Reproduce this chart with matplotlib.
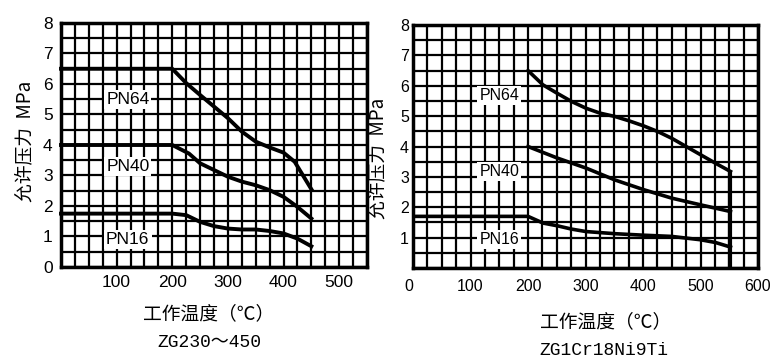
# Allowable pressure vs working temperature, two steel grades
import numpy as np
import matplotlib
matplotlib.use('Agg')
import matplotlib.pyplot as plt
from matplotlib.ticker import MultipleLocator

plt.rcParams['font.family'] = ['Liberation Sans', 'Noto Sans CJK SC', 'DejaVu Sans']

# ---- data ----
# left chart: ZG230~450
leftX64 = [0, 200, 225, 250, 275, 300, 325, 350, 375, 400, 420, 435, 450]
leftY64 = [6.5, 6.5, 6.03, 5.64, 5.26, 4.88, 4.44, 4.11, 3.92, 3.75, 3.45, 3.0, 2.55]
leftX40 = [0, 200, 230, 250, 275, 300, 325, 350, 375, 400, 425, 450]
leftY40 = [4.0, 4.0, 3.72, 3.4, 3.18, 2.96, 2.8, 2.68, 2.52, 2.3, 1.97, 1.59]
leftX16 = [0, 200, 225, 250, 275, 300, 325, 350, 375, 400, 425, 450]
leftY16 = [1.75, 1.75, 1.7, 1.48, 1.34, 1.26, 1.23, 1.23, 1.18, 1.1, 0.93, 0.68]

# right chart: ZG1Cr18Ni9Ti
rightX64 = [200, 226, 251, 276, 301, 325, 351, 375, 401, 426, 450, 475, 500, 526, 552]
rightY64 = [6.5, 6.03, 5.75, 5.48, 5.26, 5.1, 4.99, 4.85, 4.68, 4.49, 4.27, 4.0, 3.73, 3.45, 3.18]
rightX40 = [200, 251, 301, 351, 401, 450, 500, 552]
rightY40 = [4.0, 3.62, 3.29, 2.9, 2.58, 2.3, 2.08, 1.86]
rightX16 = [0, 200, 226, 251, 276, 301, 351, 401, 450, 500, 526, 552]
rightY16 = [1.7, 1.7, 1.48, 1.39, 1.28, 1.2, 1.13, 1.08, 1.04, 0.93, 0.84, 0.69]
rightCutX = 552

leftXTicks = [100, 200, 300, 400, 500]
rightXTicks = [0, 100, 200, 300, 400, 500, 600]
yTicks = [0, 1, 2, 3, 4, 5, 6, 7, 8]
rightYTicks = [1, 2, 3, 4, 5, 6, 7, 8]

labels = ['PN64', 'PN40', 'PN16']
leftLabelPos = [(120, 5.5), (120, 3.3), (120, 0.9)]
rightLabelPos = [(150, 5.67), (150, 3.18), (150, 0.95)]

xLabel = '工作温度（℃）'
yLabel = '允许压力  MPa'
leftCaption = 'ZG230～450'
rightCaption = 'ZG1Cr18Ni9Ti'

cjk = ['Noto Sans CJK SC', 'DejaVu Sans']
mono = ['Liberation Mono', 'Noto Sans CJK SC']

# ------------------------------------------------------------------------------
def styleGrid(ax, xmax, tickSize):
    ax.set_xlim(0, xmax)
    ax.set_ylim(0, 8)
    ax.xaxis.set_minor_locator(MultipleLocator(25))
    ax.yaxis.set_minor_locator(MultipleLocator(0.5))
    ax.grid(which='both', color='black', linewidth=1.6)
    ax.set_axisbelow(True)
    ax.tick_params(which='both', length=0, labelsize=tickSize)
    for s in ax.spines.values():
        s.set_linewidth(2.5)

def putLabels(ax, positions, size):
    for lab, (x, y) in zip(labels, positions):
        ax.text(x, y, lab, ha='center', va='center', fontsize=size, zorder=5,
                bbox=dict(facecolor='white', edgecolor='none', pad=1.5))

fig = plt.figure(figsize=(7.71, 3.61), dpi=100)

# --- left chart
axL = fig.add_axes([0.0791, 0.2604, 0.3969, 0.6759])
styleGrid(axL, 550, 12.5)
axL.set_xticks(leftXTicks)
axL.set_yticks(yTicks)
axL.tick_params(axis='x', pad=6)
axL.tick_params(axis='y', pad=6)
for xs, ys in [(leftX64, leftY64), (leftX40, leftY40), (leftX16, leftY16)]:
    axL.plot(xs, ys, color='black', linewidth=2.8, zorder=3, clip_on=False,
             solid_joinstyle='round')
putLabels(axL, leftLabelPos, 12.5)

# --- right chart
axR = fig.add_axes([0.5357, 0.2576, 0.4475, 0.673])
styleGrid(axR, 600, 11.5)
axR.set_xticks(rightXTicks)
axR.set_yticks(rightYTicks)
axR.tick_params(axis='x', pad=8)
axR.tick_params(axis='y', pad=3)
axR.get_xticklabels()[0].set_horizontalalignment('right')
for xs, ys in [(rightX64, rightY64), (rightX40, rightY40), (rightX16, rightY16)]:
    axR.plot(xs, ys, color='black', linewidth=2.6, zorder=3, solid_joinstyle='round')
axR.vlines(rightCutX, 0, rightY64[-1], color='black', linewidth=3, zorder=3)
putLabels(axR, rightLabelPos, 11.5)

# --- axis titles and captions
fig.text(0.271, 0.13, xLabel, ha='center', va='center', fontsize=13.5, family=cjk)
fig.text(0.271, 0.05, leftCaption, ha='center', va='center', fontsize=13, family=mono)
fig.text(0.785, 0.108, xLabel, ha='center', va='center', fontsize=13.5, family=cjk)
fig.text(0.783, 0.03, rightCaption, ha='center', va='center', fontsize=13, family=mono)
fig.text(0.032, 0.607, yLabel, ha='center', va='center', rotation=90, fontsize=13.5, family=cjk)
fig.text(0.49, 0.56, yLabel, ha='center', va='center', rotation=90, fontsize=13.5, family=cjk)

fig.savefig('out.png', dpi=100)
